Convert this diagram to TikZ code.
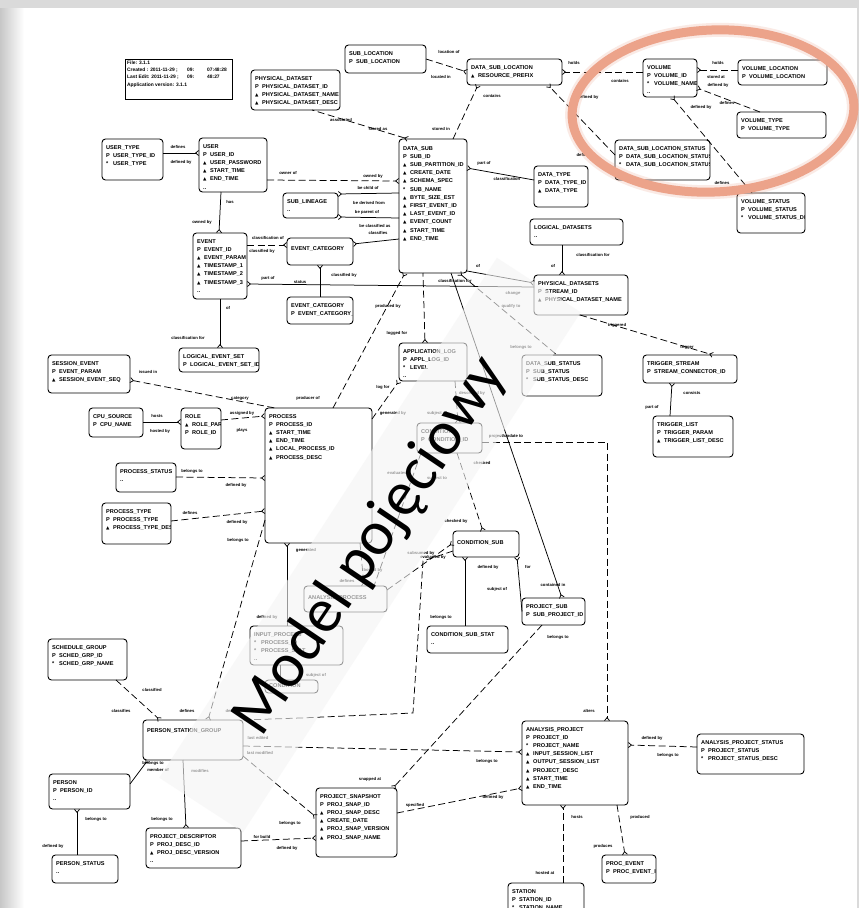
\documentclass[tikz,border=0pt]{standalone}
\usepackage{fontspec}
\setmainfont{Liberation Sans}
\newfontfamily\wmfont{Carlito}
\newfontfamily\trifont{DejaVu Sans}
\usetikzlibrary{arrows.meta,calc}
\AtBeginDocument{\catcode`\_=12 }

\definecolor{pagegray}{RGB}{218,218,218}
\definecolor{hoopcolor}{RGB}{236,163,138}

\newcommand\etf{\fontsize{5.6}{8.2}\selectfont\bfseries}
\newcommand\lbf{\fontsize{4.2}{5}\selectfont\bfseries}
\newcommand\inff{\fontsize{4.9}{7.3}\selectfont\bfseries}
\newcommand\ertri{{\trifont\fontsize{4.4}{8}\selectfont ▲}}
\newcommand\erow[2]{\makebox[7pt][l]{#1}#2}

% entity box: [text offset]{name}{left}{top}{right}{bottom}{rows}
\newcommand\erbox[7][6]{%
  \pgfmathsetmacro\erw{#5-#3}%
  \pgfmathsetmacro\erh{#6-#4}%
  \node[ent, minimum width=\erw pt, minimum height=\erh pt] (#2) at (#3,#4) {};
  \begin{scope}
    \clip ($(#2.north west)+(1,1)$) rectangle ($(#2.south east)+(-1,-1)$);
    \node[etxt] (#2-t) at ($(#2.north west)+(4,#1)$) {#7};
  \end{scope}}

\tikzset{
  ent/.style={draw, line width=0.9pt, rounded corners=3.5pt, fill=white,
    anchor=north west, inner sep=0pt, outer sep=0pt},
  etxt/.style={anchor=north west, inner sep=0pt, font=\etf, align=left},
  infobox/.style={draw, line width=1pt, fill=white, anchor=north west,
    inner sep=0pt, outer sep=0pt},
  rel/.style={line width=0.75pt, dash pattern=on 7pt off 3.5pt},
  rels/.style={line width=0.75pt},
  manyend/.style={-{Straight Barb[reversed,length=3pt,width=5pt]}},
  manystart/.style={{Straight Barb[reversed,length=3pt,width=5pt]}-},
  lbl/.style={font=\lbf, inner sep=0.3pt},
  band/.style={rotate=57, minimum width=620pt, minimum height=100pt,
    fill=gray!8, fill opacity=0.62, inner sep=0pt},
}

\begin{document}
\begin{tikzpicture}[x=1pt,y=-1pt]
\useasboundingbox (0,0) rectangle (859,908);
\clip (0,0) rectangle (859,908);

% sheet and its frame
\fill[pagegray] (0,0) rectangle (859,908);
\fill[white] (0,8) rectangle (857,908);
\shade[left color=black!22, right color=white] (0,8) rectangle (24,908);
\fill[pagegray] (857,0) rectangle (859,580);

% ---------- entities ----------
\node[infobox, minimum width=107pt, minimum height=40pt] (info) at (125,59) {};
\node[anchor=north west, inner sep=0pt, font=\inff, align=left] (info-t)
  at ($(info.north west)+(2,1.5)$)
  {File: 3.1.1\\
   \makebox[60pt][l]{Created : 2011-11-29 ;}\makebox[20pt][l]{09:}07:48:28\\
   \makebox[60pt][l]{Last Edit: 2011-11-29 ;}\makebox[20pt][l]{09:}48:27\\
   Application version: 3.1.1};

\erbox{phys}{251}{70}{340}{110}{PHYSICAL_DATASET\\\erow{P}{PHYSICAL_DATASET_ID}\\\erow{\ertri}{PHYSICAL_DATASET_NAME}\\\erow{\ertri}{PHYSICAL_DATASET_DESC}}
\erbox{usertype}{102}{139}{163}{180}{USER_TYPE\\\erow{P}{USER_TYPE_ID}\\\erow{*}{USER_TYPE}}
\erbox{user}{199}{138}{267}{192}{USER\\\erow{P}{USER_ID}\\\erow{\ertri}{USER_PASSWORD}\\\erow{\ertri}{START_TIME}\\\erow{\ertri}{END_TIME}\\..}
\erbox{event}{193}{233}{247}{299}{EVENT\\\erow{P}{EVENT_ID}\\\erow{\ertri}{EVENT_PARAM}\\\erow{\ertri}{TIMESTAMP_1}\\\erow{\ertri}{TIMESTAMP_2}\\\erow{\ertri}{TIMESTAMP_3}\\..}
\erbox{lineage}{283}{193}{338}{218}{SUB_LINEAGE\\..}
\erbox[8]{evcat}{287}{238}{353}{265}{EVENT_CATEGORY}
\erbox{evcattwo}{287}{297}{353}{324}{EVENT_CATEGORY\\\erow{P}{EVENT_CATEGORY_ID}}
\erbox{subloc}{345}{45}{426}{73}{SUB_LOCATION\\\erow{P}{SUB_LOCATION}}
\erbox{dsl}{467}{59}{562}{85}{DATA_SUB_LOCATION\\\erow{\ertri}{RESOURCE_PREFIX}}
\erbox[7]{datasub}{399}{139}{467}{273}{DATA_SUB\\\erow{P}{SUB_ID}\\\erow{\ertri}{SUB_PARTITION_ID}\\\erow{\ertri}{CREATE_DATE}\\\erow{\ertri}{SCHEMA_SPEC}\\\erow{*}{SUB_NAME}\\\erow{\ertri}{BYTE_SIZE_EST}\\\erow{\ertri}{FIRST_EVENT_ID}\\\erow{\ertri}{LAST_EVENT_ID}\\\erow{\ertri}{EVENT_COUNT}\\\erow{\ertri}{START_TIME}\\\erow{\ertri}{END_TIME}}
\erbox{datatype}{534}{166}{588}{207}{DATA_TYPE\\\erow{P}{DATA_TYPE_ID}\\\erow{\ertri}{DATA_TYPE}}
\erbox{logds}{530}{219}{623}{245}{LOGICAL_DATASETS\\..}
\erbox{physds}{534}{275}{628}{315}{PHYSICAL_DATASETS\\\erow{P}{STREAM_ID}\\\erow{\ertri}{PHYSICAL_DATASET_NAME}}
\erbox{volume}{643}{59}{697}{97}{VOLUME\\\erow{P}{VOLUME_ID}\\\erow{*}{VOLUME_NAME}\\..}
\erbox{volloc}{738}{60}{827}{85}{VOLUME_LOCATION\\\erow{P}{VOLUME_LOCATION}}
\erbox{voltype}{737}{112}{826}{138}{VOLUME_TYPE\\\erow{P}{VOLUME_TYPE}}
\erbox{dslstat}{615}{140}{710}{180}{DATA_SUB_LOCATION_STATUS\\\erow{P}{DATA_SUB_LOCATION_STATUS}\\\erow{*}{DATA_SUB_LOCATION_STATUS_DESC}}
\erbox{volstat}{737}{193}{805}{233}{VOLUME_STATUS\\\erow{P}{VOLUME_STATUS}\\\erow{*}{VOLUME_STATUS_DESC}}
\erbox{logevset}{179}{348}{259}{372}{LOGICAL_EVENT_SET\\\erow{P}{LOGICAL_EVENT_SET_ID}}
\erbox{sessev}{48}{355}{130}{393}{SESSION_EVENT\\\erow{P}{EVENT_PARAM}\\\erow{\ertri}{SESSION_EVENT_SEQ}}
\erbox{cpu}{89}{408}{143}{437}{CPU_SOURCE\\\erow{P}{CPU_NAME}}
\erbox{role}{181}{408}{221}{449}{ROLE\\\erow{\ertri}{ROLE_PARAM}\\\erow{P}{ROLE_ID}}
\erbox{process}{265}{408}{372}{543}{PROCESS\\\erow{P}{PROCESS_ID}\\\erow{\ertri}{START_TIME}\\\erow{\ertri}{END_TIME}\\\erow{\ertri}{LOCAL_PROCESS_ID}\\\erow{\ertri}{PROCESS_DESC}}
\erbox{procstat}{116}{463}{176}{492}{PROCESS_STATUS\\..}
\erbox{proctype}{102}{503}{171}{544}{PROCESS_TYPE\\\erow{P}{PROCESS_TYPE}\\\erow{\ertri}{PROCESS_TYPE_DESC}}
\erbox{applog}{399}{343}{467}{381}{APPLICATION_LOG\\\erow{P}{APPL_LOG_ID}\\\erow{*}{LEVEL}\\..}
\erbox{subst}{522}{355}{602}{396}{DATA_SUB_STATUS\\\erow{P}{SUB_STATUS}\\\erow{*}{SUB_STATUS_DESC}}
\erbox{cond}{417}{423}{482}{453}{CONDITION\\\erow{P}{CONDITION_ID}}
\erbox[9]{condsub}{453}{531}{519}{557}{CONDITION_SUB}
\erbox{projsub}{522}{598}{585}{625}{PROJECT_SUB\\\erow{P}{SUB_PROJECT_ID}}
\erbox[9]{anproc}{304}{586}{387}{612}{ANALYSIS_PROCESS}
\erbox{inproc}{250}{626}{343}{665}{INPUT_PROCESS\\\erow{*}{PROCESS_ID}\\\erow{*}{PROCESS_STAT}\\..}
\erbox[3.5]{condtype}{265}{680}{318}{693}{CONDITION}
\erbox{condsubstat}{427}{626}{508}{653}{CONDITION_SUB_STAT\\..}
\erbox{trstream}{643}{355}{737}{383}{TRIGGER_STREAM\\\erow{P}{STREAM_CONNECTOR_ID}}
\erbox{trlist}{653}{416}{733}{457}{TRIGGER_LIST\\\erow{P}{TRIGGER_PARAM}\\\erow{\ertri}{TRIGGER_LIST_DESC}}
\erbox{schedgrp}{48}{639}{127}{680}{SCHEDULE_GROUP\\\erow{P}{SCHED_GRP_ID}\\\erow{*}{SCHED_GRP_NAME}}
\erbox[8]{psg}{143}{720}{243}{760}{PERSON_STATION_GROUP}
\erbox{person}{49}{774}{130}{809}{PERSON\\\erow{P}{PERSON_ID}\\..}
\erbox{personstat}{52}{855}{118}{883}{PERSON_STATUS\\..}
\erbox{projdesc}{146}{828}{241}{868}{PROJECT_DESCRIPTOR\\\erow{P}{PROJ_DESC_ID}\\\erow{\ertri}{PROJ_DESC_VERSION}\\..}
\erbox{projsnap}{316}{788}{397}{857}{PROJECT_SNAPSHOT\\\erow{P}{PROJ_SNAP_ID}\\\erow{\ertri}{PROJ_SNAP_DESC}\\\erow{\ertri}{CREATE_DATE}\\\erow{\ertri}{PROJ_SNAP_VERSION}\\\erow{\ertri}{PROJ_SNAP_NAME}}
\erbox{anproj}{522}{721}{628}{805}{ANALYSIS_PROJECT\\\erow{P}{PROJECT_ID}\\\erow{*}{PROJECT_NAME}\\\erow{\ertri}{INPUT_SESSION_LIST}\\\erow{\ertri}{OUTPUT_SESSION_LIST}\\\erow{\ertri}{PROJECT_DESC}\\\erow{\ertri}{START_TIME}\\\erow{\ertri}{END_TIME}}
\erbox{station}{508}{883}{584}{920}{STATION\\\erow{P}{STATION_ID}\\\erow{*}{STATION_NAME}}
\erbox{anprojstat}{697}{734}{804}{774}{ANALYSIS_PROJECT_STATUS\\\erow{P}{PROJECT_STATUS}\\\erow{*}{PROJECT_STATUS_DESC}}
\erbox{procevent}{602}{855}{656}{883}{PROC_EVENT\\\erow{P}{PROC_EVENT_ID}}

% ---------- relationships ----------
\draw[rel,manyend] (subloc.east) -- ($(dsl.north west)+(0,13)$);
\node[lbl] (l1a) at (449,52) {location of};
\node[lbl] (l1b) at (441,77) {located in};

\draw[rel,manyend] ($(volume.north west)+(0,13)$) -- ($(dsl.north east)+(0,13)$);
\node[lbl] (l2a) at (574,63) {holds};
\node[lbl] (l2b) at (620,81) {contains};

\draw[rel,manyend] ($(dslstat.north west)+(0,15)$) -- ($(dsl.south east)+(-14,0)$);
\node[lbl] (l3a) at (588,97) {defined by};
\node[lbl] (l3b) at (584,155) {defines};

\draw[rel,manyend] ($(volloc.north west)+(0,10)$) -- ($(volume.north east)+(0,11)$);
\node[lbl] (l4a) at (718,63) {holds};
\node[lbl] (l4b) at (716,77) {stored at};

\draw[rel,manyend] ($(voltype.north west)+(23,0)$) -- ($(volume.north east)+(0,29)$);
\node[lbl] (l5a) at (727,103) {defines};
\node[lbl] (l5b) at (701,107) {defined by};
\node[lbl] (l5c) at (718,85) {defined by};

\draw[rel,manyend] ($(volstat.north west)+(15,0)$) -- ($(volume.south west)+(29,0)$);
\node[lbl] (l6a) at (722,183) {defines};

\draw[rel,manyend] ($(datasub.north west)+(54,0)$) -- ($(dsl.south west)+(11,0)$);
\node[lbl] (l7a) at (492,96) {contains};
\node[lbl] (l7b) at (441,129) {stored in};

\draw[rel,manystart] ($(datasub.north west)+(9,0)$) -- ($(phys.south west)+(61,0)$);
\node[lbl] (l8a) at (341,120) {associated};
\node[lbl] (l8b) at (378,129) {stored as};

\draw[rels,manystart] ($(datasub.north east)+(0,29)$) -- ($(datatype.north west)+(0,14)$);
\node[lbl] (l9a) at (484,163) {part of};
\node[lbl] (l9b) at (507,179) {classification};

\draw[rel,manyend] ($(user.north east)+(0,42)$) -- ($(datasub.north west)+(0,42)$);
\node[lbl] (l10a) at (288,173) {owner of};
\node[lbl] (l10b) at (373,176) {owned by};

\draw[rels,manystart] ($(lineage.north east)+(0,1)$) -- ($(datasub.north west)+(0,54)$);
\draw[rels,manystart] ($(lineage.south east)+(0,-1)$) -- ($(datasub.north west)+(0,79)$);
\node[lbl] (l11a) at (368,188) {be child of};
\node[lbl] (l11b) at (369,203) {be derived from};
\node[lbl] (l11c) at (367,212) {be parent of};

\draw[rels,manystart] ($(evcat.north east)+(0,6)$) -- ($(datasub.north west)+(0,100)$);
\node[lbl] (l12a) at (375,226) {be classified as};
\node[lbl] (l12b) at (378,233) {classifies};

\draw[rels,manyend] ($(usertype.north east)+(0,14)$) -- ($(user.north west)+(0,15)$);
\node[lbl] (l13a) at (178,147) {defines};
\node[lbl] (l13b) at (181,162) {defined by};

\draw[rels,manyend] ($(user.south west)+(22,0)$) -- ($(event.north west)+(26,0)$);
\node[lbl] (l14a) at (230,202) {has};
\node[lbl] (l14b) at (202,222) {owned by};

\draw[rel,manyend] ($(event.north east)+(0,12)$) -- ($(evcat.north west)+(0,7)$);
\node[lbl] (l15a) at (268,238) {classification of};
\node[lbl] (l15b) at (262,251) {classified by};

\draw[rels,manystart] ($(event.north east)+(0,51)$) -- ($(physds.north west)+(0,12)$);
\node[lbl] (l16a) at (268,278) {part of};
\node[lbl] (l16b) at (300,282) {status};
\node[lbl] (l16c) at (455,281) {classification for};

\draw[rels,manystart] ($(evcat.south west)+(33,0)$) -- ($(evcattwo.north west)+(33,0)$);
\node[lbl] (l17a) at (344,275) {classified by};

\draw[rels,manyend] ($(event.south west)+(27,0)$) -- ($(logevset.north west)+(41,0)$);
\node[lbl] (l18a) at (228,308) {of};
\node[lbl] (l18b) at (188,338) {classification for};

\draw[rels,manyend] ($(logds.south west)+(32,0)$) -- ($(physds.north west)+(28,0)$);
\node[lbl] (l19a) at (593,255) {classification for};
\node[lbl] (l19b) at (553,266) {of};

\draw[rels,manyend] ($(datasub.south east)+(0,-2)$) -- ($(physds.north west)+(0,8)$);
\node[lbl] (l20a) at (478,266) {of};

\draw[rel,manystart] ($(datasub.south east)+(-8,0)$) -- ($(subst.north west)+(35,0)$);
\node[lbl] (l21a) at (513,293) {change};
\node[lbl] (l21b) at (511,306) {qualify to};
\node[lbl] (l21c) at (521,347) {belongs to};

\draw[rel,manyend] ($(physds.south west)+(46,0)$) -- ($(trstream.north west)+(70,0)$);
\node[lbl] (l22a) at (617,325) {triggered};
\node[lbl] (l22b) at (687,347) {trigger};

\draw[rels,manystart] ($(trstream.south west)+(29,0)$) -- ($(trlist.north west)+(17,0)$);
\node[lbl] (l23a) at (692,393) {consists};
\node[lbl] (l23b) at (652,407) {part of};

\draw[rel,manystart] ($(sessev.north east)+(0,25)$) -- ($(process.north west)+(10,0)$);
\node[lbl] (l24a) at (148,372) {issued in};
\node[lbl] (l24b) at (240,399) {category};

\draw[rels,manyend] ($(cpu.north east)+(0,14)$) -- ($(role.north west)+(0,14)$);
\node[lbl] (l25a) at (157,416) {hosts};
\node[lbl] (l25b) at (160,431) {hosted by};

\draw[rel,manyend] ($(role.north east)+(0,12)$) -- ($(process.north west)+(0,8)$);
\node[lbl] (l26a) at (242,413) {assigned by};
\node[lbl] (l26b) at (242,430) {plays};

\draw[rel,manyend] ($(procstat.north east)+(0,14)$) -- ($(process.north west)+(0,70)$);
\node[lbl] (l27a) at (192,471) {belongs to};
\node[lbl] (l27b) at (236,485) {defined by};

\draw[rel,manyend] ($(proctype.north east)+(0,18)$) -- ($(process.north west)+(0,103)$);
\node[lbl] (l28a) at (190,513) {defines};
\node[lbl] (l28b) at (237,522) {defined by};

\draw[rel,manyend] ($(process.north west)+(68,0)$) -- ($(datasub.south west)+(6,0)$);
\node[lbl] (l29a) at (388,306) {produced by};
\node[lbl] (l29b) at (308,398) {producer of};

\draw[rel,manystart] ($(applog.north west)+(26,0)$) -- ($(datasub.south west)+(24,0)$);
\node[lbl] (l30a) at (397,333) {logged for};

\draw[rel,manyend] ($(process.north east)+(0,11)$) -- (applog.south west);
\node[lbl] (l31a) at (383,387) {log for};
\node[lbl] (l31b) at (393,413) {generated by};

\draw[rel,manyend] ($(applog.south east)+(-12,0)$) -- ($(cond.north west)+(41,0)$);
\node[lbl] (l32a) at (437,413) {subject of};
\node[lbl] (l32b) at (472,393) {described by};

\draw[rels,manyend] ($(datasub.south west)+(52,0)$) -- ($(projsub.north west)+(40,0)$);
\node[lbl] (l33a) at (553,585) {contained in};

\draw[rel,manyend] ($(cond.south west)+(40,0)$) -- ($(condsub.north west)+(30,0)$);
\node[lbl] (l34a) at (482,463) {checked};
\node[lbl] (l34b) at (456,521) {checked by};

\draw[rel,manyend] ($(cond.north east)+(0,19)$) -| ($(anproj.north west)+(85,0)$);
\node[lbl] (l35a) at (506,436) {project/update to};
\node[lbl] (l35b) at (589,711) {alters};

\draw[rels,manystart] ($(condsub.south west)+(12,0)$) -- ($(condsubstat.north west)+(38,0)$);
\node[lbl] (l36a) at (488,567) {defined by};
\node[lbl] (l36b) at (441,617) {belongs to};

\draw[rels,manystart] ($(condsub.south east)+(-2,0)$) -- (projsub.west);
\node[lbl] (l37a) at (528,567) {for};
\node[lbl] (l37b) at (497,589) {subject of};

\draw[rel,manyend] ($(projsub.south west)+(20,0)$) -- ($(projsnap.north east)+(-4,0)$);
\node[lbl] (l38a) at (558,637) {belongs to};
\node[lbl] (l38b) at (370,779) {snapped at};

\draw[rel,manyend] ($(anproc.north east)+(0,4)$) -- ($(condsub.north west)+(0,12)$);
\node[lbl] (l39a) at (433,557) {evaluated by};

\draw[rels,manystart] ($(process.south west)+(22,0)$) -- ($(inproc.north west)+(37,0)$);
\node[lbl] (l40a) at (306,550) {generated};
\node[lbl] (l40b) at (267,617) {defined by};

\draw[rel,manyend] ($(process.south west)+(95,0)$) -- ($(anproc.north west)+(60,0)$);
\node[lbl] (l40c) at (373,570) {bound by};
\node[lbl] (l40d) at (347,581) {defines};

\draw[rel] ($(cond.south west)+(4,0)$) -- ($(anproc.north west)+(70,0)$);
\node[lbl] (l40e) at (397,473) {evaluates};
\node[lbl] (l40f) at (437,478) {subject to};

\draw[rels] ($(inproc.south west)+(30,0)$) -- ($(condtype.north west)+(15,0)$);
\node[lbl] (l40g) at (316,675) {subject of};

\draw[rel,manyend] ($(process.north west)+(0,112)$) -- ($(psg.north west)+(65,0)$);
\node[lbl] (l41a) at (238,540) {belongs to};
\node[lbl] (l41b) at (187,711) {defines};

\draw[rel] ($(condsub.north west)+(0,20)$) -- ($(condsub.south west)+(-30,4)$)
  -- ($(psg.north east)+(170,-7)$) -- ($(psg.north east)+(57,-2)$) -- (psg.north east);
\node[lbl] (l42a) at (233,711) {defines};
\node[lbl] (l42b) at (421,553) {subsumed by};

\draw[rel,manyend] ($(psg.north east)+(0,26)$) -- ($(anproj.north west)+(0,31)$);
\node[lbl] (l43a) at (258,738) {last edited};
\node[lbl] (l43b) at (487,761) {belongs to};

\draw[rel,manyend] ($(psg.south east)+(0,-4)$) -- ($(projsnap.north west)+(0,29)$);
\node[lbl] (l44a) at (260,753) {last modified};
\node[lbl] (l44b) at (290,823) {belongs to};

\draw[rel,manyend] ($(schedgrp.south west)+(68,0)$) -- ($(psg.north west)+(17,0)$);
\node[lbl] (l45a) at (152,690) {classified};
\node[lbl] (l45b) at (121,711) {classifies};

\draw[rels,manyend] ($(person.north east)+(0,10)$) -- ($(psg.south west)+(5,0)$);
\node[lbl] (l46a) at (153,763) {belongs to};
\node[lbl] (l46b) at (158,770) {member of};

\draw[rels,manyend] ($(psg.south west)+(40,0)$) -- ($(projdesc.north west)+(40,0)$);
\node[lbl] (l47a) at (162,819) {belongs to};
\node[lbl] (l47b) at (200,771) {modifies};

\draw[rel,manyend] ($(projdesc.north east)+(0,13)$) -- ($(projsnap.north west)+(0,50)$);
\node[lbl] (l48a) at (262,837) {for build};
\node[lbl] (l48b) at (287,848) {defined by};

\draw[rel,manyend] ($(projsnap.north east)+(0,25)$) -- ($(anproj.north west)+(0,67)$);
\node[lbl] (l49a) at (415,805) {specified};
\node[lbl] (l49b) at (493,797) {defined by};

\draw[rel,manyend] ($(station.north west)+(55,0)$) -- ($(anproj.south west)+(41,0)$);
\node[lbl] (l50a) at (577,817) {hosts};
\node[lbl] (l50b) at (545,873) {hosted at};

\draw[rel,manyend] ($(anproj.south east)+(-11,0)$) -- ($(procevent.north west)+(23,0)$);
\node[lbl] (l51a) at (640,817) {produced};
\node[lbl] (l51b) at (603,846) {produces};

\draw[rel,manyend] ($(anprojstat.north west)+(0,13)$) -- ($(anproj.north east)+(0,24)$);
\node[lbl] (l52a) at (652,738) {defined by};
\node[lbl] (l52b) at (668,755) {belongs to};

\draw[rels,manyend] ($(personstat.north west)+(25,0)$) -- ($(person.south west)+(28,0)$);
\node[lbl] (l53a) at (96,819) {belongs to};
\node[lbl] (l53b) at (53,846) {defined by};

% ---------- watermark band and caption ----------
\node[band] (wmband) at (370,545) {};
\node[rotate=56, inner sep=0pt, font=\wmfont\fontsize{63}{63}\selectfont]
  (wm) at (371,546) {Model pojęciowy};

% ---------- highlight ring ----------
\draw[hoopcolor, line width=14pt, opacity=0.22, rotate around={2.5:(713,111)}]
  (713,111) ellipse [x radius=141, y radius=81];
\draw[hoopcolor, line width=9pt, rotate around={2.5:(713,111)}]
  (713,111) ellipse [x radius=141, y radius=81];
\end{tikzpicture}
\end{document}
